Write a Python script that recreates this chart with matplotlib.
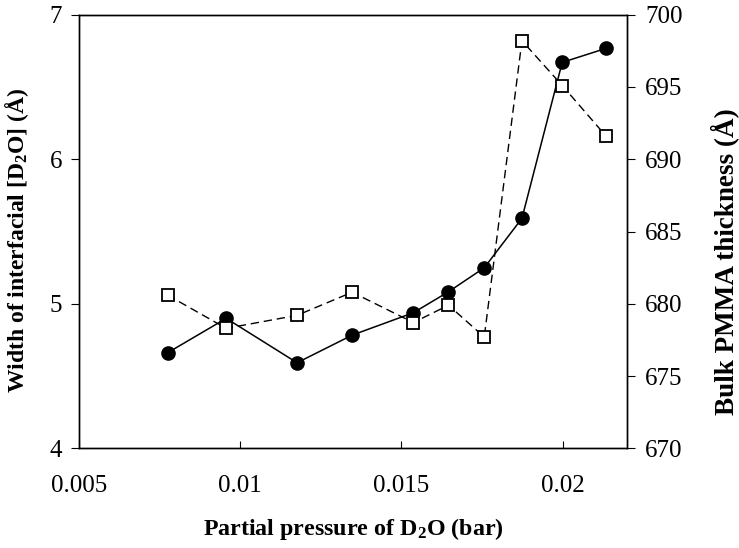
import numpy as np
import matplotlib
matplotlib.use("Agg")
import matplotlib.pyplot as plt

plt.rcParams['font.family'] = ['Liberation Serif', 'DejaVu Serif']
plt.rcParams['mathtext.default'] = 'regular'

# partial pressure of D2O (bar)
pressure = [0.00774, 0.00956, 0.01176, 0.01347, 0.01537, 0.01646, 0.01757, 0.01874, 0.01999, 0.02135]
# interfacial width (A), left axis
width = [4.661, 4.899, 4.592, 4.783, 4.938, 5.083, 5.249, 5.591, 6.670, 6.767]
# bulk PMMA thickness (A), right axis
thickness = [680.6, 678.3, 679.2, 680.8, 678.7, 679.9, 677.7, 698.2, 695.1, 691.6]

fig = plt.figure(figsize=(7.39, 5.48), dpi=100)
ax = fig.add_axes([0.1073, 0.1819, 0.7411, 0.7913])
ax2 = ax.twinx()

ax.plot(pressure, width, '-', color='black', lw=1.1, marker='o', ms=9.5,
        mfc='black', mec='black')
ax2.plot(pressure, thickness, color='black', lw=1.0, dashes=(6, 3.5),
         marker='s', ms=8, mfc='white', mec='black', mew=1.3)

ax.set_xlim(0.005, 0.022)
ax.set_ylim(4, 7)
ax2.set_ylim(670, 700)
ax.set_xticks([0.005, 0.01, 0.015, 0.02])
ax.set_xticklabels(['0.005', '0.01', '0.015', '0.02'])
ax.set_yticks([4, 5, 6, 7])
ax2.set_yticks([670, 675, 680, 685, 690, 695, 700])

ax.tick_params(axis='x', direction='in', length=5, labelsize=18, pad=19)
ax.tick_params(axis='y', direction='out', length=6, labelsize=18, pad=6.5)
ax2.tick_params(axis='y', direction='out', length=6, labelsize=18, pad=7)

for a in (ax, ax2):
    for s in a.spines.values():
        s.set_linewidth(1.0)

ax.set_xlabel('Partial pressure of D$_2$O (bar)', fontsize=17.3, fontweight='bold', labelpad=14)
ax.set_ylabel('Width of interfacial [D$_2$O] (Å)', fontsize=17, fontweight='bold')
ax2.set_ylabel('Bulk PMMA thickness (Å)', fontsize=19.5, fontweight='bold')
ax.yaxis.set_label_coords(-0.089, 0.48)
ax2.yaxis.set_label_coords(1.152, 0.43)

fig.savefig('out.png', dpi=100)
